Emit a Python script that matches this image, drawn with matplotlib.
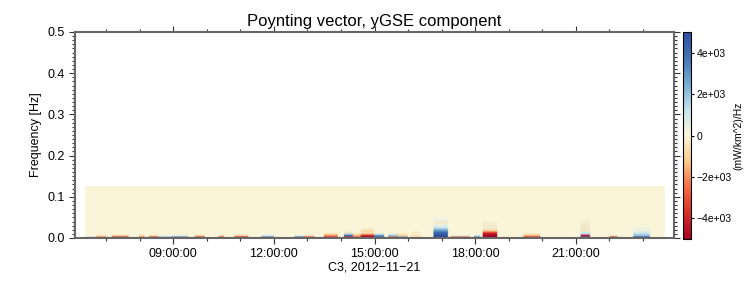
import numpy as np
import matplotlib
matplotlib.use("Agg")
import matplotlib.pyplot as plt
from matplotlib.colors import LinearSegmentedColormap
from matplotlib.ticker import MultipleLocator, FuncFormatter

plt.rcParams['font.family'] = ['Liberation Sans', 'DejaVu Sans']

# spectrogram coverage (hours of 2012-11-21) and frequency range
t_start, t_end = 6.37, 23.65
f_max = 0.125
n_rows = 32                      # frequency rows, bottom to top

# activity patches: start hour, end hour, values (x1e3 mW/km^2/Hz) per row from bottom
ev_start = [6.42, 6.70, 7.16, 7.96, 8.26, 8.55, 8.94, 9.62, 10.34, 10.81,
            11.61, 12.59, 12.89, 13.48, 14.08, 14.35, 14.58, 14.97, 15.39, 15.68,
            16.07, 16.75, 17.26, 17.94, 18.21, 19.42, 21.12, 22.00, 22.69]
ev_end = [6.70, 7.00, 7.66, 8.14, 8.55, 8.94, 9.45, 9.92, 10.51, 11.23,
          12.00, 12.89, 13.19, 13.90, 14.35, 14.58, 14.97, 15.27, 15.68, 15.98,
          16.37, 17.17, 17.85, 18.15, 18.65, 19.93, 21.41, 22.22, 23.20]
ev_prof = [
    [1.5],
    [-2.5, -0.5],
    [-4.0, -1.0],
    [-2.5, -0.8],
    [-4.0, -0.5],
    [2.0, 0.3],
    [3.5, 0.5],
    [-4.0, -0.8],
    [-4.0, -0.5],
    [-4.5, -1.0],
    [4.0, 0.8],
    [4.0, 0.5],
    [-3.5, -0.5],
    [-4.0, -2.0, -0.8],
    [-4.0, 4.0, 1.5, -0.5],
    [-3.0, -1.5, -0.6],
    [-5.0, -4.0, -1.5, -0.5, -0.8, -0.3],
    [4.5, 3.0, 0.8],
    [-3.0, 2.0, 0.5],
    [3.0, -1.0, -0.5],
    [-0.8, -0.5, 0.0, -0.6],
    [5.0, 5.0, 4.5, 4.0, 3.0, 2.0, 1.0, 0.6, 0.3, -0.4, 0.5, 0.3, 0.2],
    [-3.0, 0.5],
    [4.0, 1.0],
    [-5.0, -5.0, -4.5, -3.0, -1.0, -0.6, 0.4, -0.5, 0.3, -0.3],
    [-4.0, -1.5, -0.5],
    [4.0, -4.5, 1.5, 0.8, -0.6, 0.5, -0.6, 0.4, -0.4, 0.3, -0.3],
    [-4.0, -0.3],
    [5.0, 2.0, 1.5, 0.8, 0.4, 0.3, 0.2],
]

cmap_colors = ['#a50026', '#d62f27', '#f46d43', '#fbc98a', '#fbf6d8',
               '#c6e3ef', '#74add1', '#4575b4', '#2b4f9e']

# build the image on a one-minute grid
t_edges = np.arange(t_start, t_end + 1e-9, 1 / 60)
Z = np.zeros((n_rows, len(t_edges)))
for t0, t1, prof in zip(ev_start, ev_end, ev_prof):
    cols = (t_edges >= t0) & (t_edges < t1)
    for r, v in enumerate(prof):
        Z[r, cols] = v * 1e3

cmap = LinearSegmentedColormap.from_list('pv', cmap_colors)

fig = plt.figure(figsize=(7.5, 3), dpi=100)
ax = fig.add_axes([75 / 750, 1 - 238 / 300, 599 / 750, 206 / 300])
cax = fig.add_axes([683 / 750, 1 - 239 / 300, 8 / 750, 207 / 300])

im = ax.imshow(Z, origin='lower', aspect='auto', cmap=cmap, vmin=-5000, vmax=5000,
               extent=[t_start, t_end, 0, f_max], interpolation='bilinear')

ax.set_xlim(6.07, 23.93)
ax.set_ylim(0, 0.5)
ax.xaxis.set_major_locator(MultipleLocator(3))
ax.xaxis.set_minor_locator(MultipleLocator(1))
ax.xaxis.set_major_formatter(FuncFormatter(lambda v, p: '%02d:00:00' % int(round(v))))
ax.yaxis.set_major_locator(MultipleLocator(0.1))
ax.yaxis.set_minor_locator(MultipleLocator(0.01))
ax.yaxis.set_major_formatter(FuncFormatter(lambda v, p: '%.1f' % v))
ax.tick_params(which='both', direction='out', top=True, right=True, labelsize=9,
               color='#333333', width=0.8)
ax.tick_params(which='major', length=4)
ax.tick_params(which='minor', length=2)
for s in ax.spines.values():
    s.set_color('#666666')
    s.set_linewidth(1.5)

ax.set_title('Poynting vector, yGSE component', fontsize=12, pad=4)
ax.set_ylabel('Frequency [Hz]', fontsize=9)
ax.set_xlabel('C3, 2012\u221211\u221221', fontsize=9, labelpad=1)

cb = fig.colorbar(im, cax=cax)
cb.set_ticks([-4000, -2000, 0, 2000, 4000])
cb.ax.yaxis.set_major_formatter(FuncFormatter(
    lambda v, p: '0' if abs(v) < 1 else ('%.0e' % v).replace('-', '\u2212')))
cb.ax.tick_params(labelsize=7.5, length=2, width=0.8, pad=2)
cb.outline.set_linewidth(0.8)
cb.set_label('(mW/km^2)/Hz', fontsize=7.5, labelpad=1)

fig.savefig('out.png', dpi=100)
